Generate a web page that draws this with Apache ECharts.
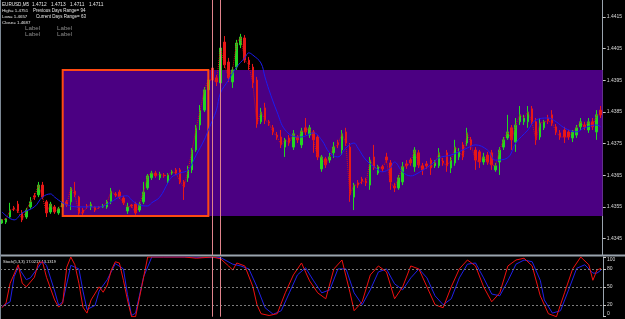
<!DOCTYPE html>
<html>
<head>
<meta charset="utf-8">
<script src="https://cdn.jsdelivr.net/npm/echarts@6/dist/echarts.min.js"></script>
<style>
  html, body { margin: 0; padding: 0; background: #000; }
  #chart { width: 625px; height: 319px; }
</style>
</head>
<body>
<div id="chart"></div>
<script>
// bars, [open, close, low, high]
const candles = [
  [1.43499, 1.43509, 1.43496, 1.43512], [1.43502, 1.43512, 1.43496, 1.43515], [1.43518, 1.43540, 1.43515, 1.43563],
  [1.43547, 1.43544, 1.43537, 1.43553], [1.43559, 1.43537, 1.43531, 1.43569], [1.43531, 1.43509, 1.43502, 1.43540],
  [1.43518, 1.43540, 1.43512, 1.43547], [1.43550, 1.43566, 1.43544, 1.43581], [1.43585, 1.43581, 1.43572, 1.43594],
  [1.43588, 1.43619, 1.43581, 1.43629], [1.43619, 1.43581, 1.43575, 1.43629], [1.43566, 1.43531, 1.43518, 1.43572],
  [1.43534, 1.43559, 1.43528, 1.43566], [1.43550, 1.43534, 1.43528, 1.43556], [1.43531, 1.43544, 1.43525, 1.43550],
  [1.43550, 1.43563, 1.43544, 1.43569], [1.43566, 1.43556, 1.43550, 1.43572], [1.43566, 1.43610, 1.43540, 1.43613],
  [1.43600, 1.43588, 1.43581, 1.43629], [1.43581, 1.43531, 1.43525, 1.43585], [1.43540, 1.43531, 1.43525, 1.43547],
  [1.43553, 1.43550, 1.43544, 1.43559], [1.43550, 1.43559, 1.43540, 1.43566], [1.43550, 1.43540, 1.43534, 1.43553],
  [1.43550, 1.43548, 1.43544, 1.43553], [1.43550, 1.43553, 1.43547, 1.43559], [1.43550, 1.43566, 1.43544, 1.43572],
  [1.43566, 1.43600, 1.43559, 1.43610], [1.43591, 1.43588, 1.43581, 1.43597], [1.43597, 1.43581, 1.43575, 1.43604],
  [1.43578, 1.43563, 1.43556, 1.43585], [1.43537, 1.43550, 1.43528, 1.43563], [1.43556, 1.43553, 1.43547, 1.43559],
  [1.43559, 1.43531, 1.43525, 1.43566], [1.43540, 1.43559, 1.43534, 1.43566], [1.43566, 1.43597, 1.43559, 1.43629],
  [1.43610, 1.43648, 1.43604, 1.43654], [1.43642, 1.43657, 1.43635, 1.43664], [1.43657, 1.43648, 1.43642, 1.43664],
  [1.43642, 1.43654, 1.43635, 1.43661], [1.43651, 1.43648, 1.43642, 1.43657], [1.43629, 1.43651, 1.43622, 1.43657],
  [1.43657, 1.43661, 1.43651, 1.43667], [1.43667, 1.43657, 1.43651, 1.43673], [1.43667, 1.43629, 1.43622, 1.43673],
  [1.43629, 1.43613, 1.43572, 1.43635], [1.43642, 1.43667, 1.43629, 1.43680], [1.43667, 1.43730, 1.43657, 1.43736],
  [1.43730, 1.43800, 1.43724, 1.43809], [1.43809, 1.43856, 1.43793, 1.43872], [1.43856, 1.43920, 1.43850, 1.43929],
  [1.43920, 1.43951, 1.43904, 1.43961], [1.43989, 1.43951, 1.43935, 1.44014], [1.43958, 1.43945, 1.43932, 1.43967],
  [1.43942, 1.44052, 1.43926, 1.44062], [1.44071, 1.43999, 1.43989, 1.44090], [1.44008, 1.43958, 1.43945, 1.44021],
  [1.43945, 1.43983, 1.43926, 1.43992], [1.43992, 1.44068, 1.43983, 1.44078], [1.44062, 1.44087, 1.44052, 1.44097],
  [1.44084, 1.44014, 1.44005, 1.44093], [1.44014, 1.43999, 1.43983, 1.44024], [1.43992, 1.43942, 1.43926, 1.44002],
  [1.43951, 1.43812, 1.43800, 1.43961], [1.43819, 1.43850, 1.43812, 1.43863], [1.43863, 1.43825, 1.43812, 1.43879],
  [1.43819, 1.43815, 1.43806, 1.43825], [1.43800, 1.43787, 1.43777, 1.43809], [1.43777, 1.43771, 1.43762, 1.43787],
  [1.43771, 1.43746, 1.43736, 1.43793], [1.43739, 1.43762, 1.43708, 1.43768], [1.43768, 1.43752, 1.43743, 1.43777],
  [1.43739, 1.43781, 1.43730, 1.43793], [1.43771, 1.43762, 1.43752, 1.43777], [1.43746, 1.43790, 1.43736, 1.43800],
  [1.43800, 1.43787, 1.43777, 1.43831], [1.43777, 1.43800, 1.43768, 1.43809], [1.43787, 1.43762, 1.43721, 1.43793],
  [1.43771, 1.43708, 1.43698, 1.43777], [1.43670, 1.43708, 1.43661, 1.43714], [1.43702, 1.43683, 1.43673, 1.43708],
  [1.43698, 1.43708, 1.43689, 1.43721], [1.43721, 1.43739, 1.43705, 1.43755], [1.43752, 1.43746, 1.43736, 1.43762],
  [1.43730, 1.43781, 1.43714, 1.43793], [1.43787, 1.43752, 1.43743, 1.43800], [1.43739, 1.43588, 1.43566, 1.43752],
  [1.43581, 1.43619, 1.43540, 1.43626], [1.43626, 1.43619, 1.43610, 1.43635], [1.43638, 1.43632, 1.43622, 1.43645],
  [1.43632, 1.43626, 1.43616, 1.43642], [1.43619, 1.43698, 1.43604, 1.43708], [1.43708, 1.43673, 1.43667, 1.43746],
  [1.43657, 1.43677, 1.43651, 1.43683], [1.43677, 1.43670, 1.43661, 1.43683], [1.43708, 1.43698, 1.43689, 1.43721],
  [1.43689, 1.43629, 1.43604, 1.43698], [1.43616, 1.43610, 1.43597, 1.43626], [1.43610, 1.43642, 1.43604, 1.43651],
  [1.43629, 1.43677, 1.43619, 1.43692], [1.43686, 1.43680, 1.43670, 1.43698], [1.43698, 1.43689, 1.43680, 1.43705],
  [1.43677, 1.43730, 1.43661, 1.43739], [1.43721, 1.43683, 1.43673, 1.43730], [1.43680, 1.43667, 1.43651, 1.43689],
  [1.43686, 1.43680, 1.43670, 1.43695], [1.43698, 1.43673, 1.43651, 1.43705], [1.43680, 1.43689, 1.43673, 1.43698],
  [1.43680, 1.43721, 1.43673, 1.43736], [1.43695, 1.43689, 1.43680, 1.43705], [1.43721, 1.43680, 1.43661, 1.43730],
  [1.43673, 1.43698, 1.43657, 1.43708], [1.43689, 1.43739, 1.43680, 1.43762], [1.43708, 1.43724, 1.43698, 1.43736],
  [1.43746, 1.43708, 1.43698, 1.43755], [1.43752, 1.43784, 1.43743, 1.43800], [1.43762, 1.43746, 1.43730, 1.43771],
  [1.43730, 1.43698, 1.43667, 1.43739], [1.43724, 1.43692, 1.43673, 1.43730], [1.43692, 1.43708, 1.43683, 1.43721],
  [1.43714, 1.43692, 1.43683, 1.43724], [1.43721, 1.43683, 1.43667, 1.43730], [1.43667, 1.43680, 1.43661, 1.43689],
  [1.43692, 1.43730, 1.43651, 1.43739], [1.43739, 1.43762, 1.43730, 1.43771], [1.43768, 1.43787, 1.43762, 1.43841],
  [1.43800, 1.43762, 1.43730, 1.43809], [1.43755, 1.43809, 1.43724, 1.43831], [1.43819, 1.43841, 1.43809, 1.43869],
  [1.43819, 1.43831, 1.43809, 1.43841], [1.43819, 1.43850, 1.43800, 1.43869], [1.43860, 1.43819, 1.43809, 1.43869],
  [1.43819, 1.43762, 1.43746, 1.43831], [1.43771, 1.43815, 1.43762, 1.43831], [1.43800, 1.43819, 1.43793, 1.43825],
  [1.43831, 1.43822, 1.43812, 1.43841], [1.43841, 1.43815, 1.43806, 1.43856], [1.43803, 1.43787, 1.43777, 1.43812],
  [1.43784, 1.43771, 1.43762, 1.43793], [1.43793, 1.43771, 1.43752, 1.43803], [1.43787, 1.43771, 1.43762, 1.43793],
  [1.43768, 1.43787, 1.43755, 1.43793], [1.43777, 1.43800, 1.43768, 1.43809], [1.43803, 1.43819, 1.43793, 1.43831],
  [1.43809, 1.43803, 1.43793, 1.43819], [1.43793, 1.43819, 1.43784, 1.43831], [1.43819, 1.43803, 1.43793, 1.43831],
  [1.43787, 1.43841, 1.43762, 1.43856], [1.43856, 1.43841, 1.43831, 1.43869]
]

// blue moving average, [bar, price]
const maLine = [
  [0, 1.43534], [3, 1.43509], [5, 1.43531], [8, 1.43550], [10, 1.43581], [12, 1.43591], [13, 1.43581],
  [15, 1.43563], [17, 1.43553], [19, 1.43550], [24, 1.43550], [27, 1.43566], [29, 1.43581], [31, 1.43585],
  [32, 1.43572], [34, 1.43556], [36, 1.43553], [37, 1.43563], [39, 1.43581], [41, 1.43626], [42, 1.43645],
  [44, 1.43657], [46, 1.43667], [48, 1.43714], [50, 1.43762], [51, 1.43793], [53, 1.43856], [54, 1.43910],
  [56, 1.43951], [58, 1.43992], [60, 1.44021], [61, 1.44037], [62, 1.44030], [64, 1.44005], [65, 1.43961],
  [66, 1.43920], [68, 1.43850], [70, 1.43793], [73, 1.43771], [74, 1.43771], [77, 1.43784], [79, 1.43762],
  [81, 1.43721], [83, 1.43708], [85, 1.43736], [87, 1.43752], [88, 1.43736], [90, 1.43698], [93, 1.43667],
  [94, 1.43661], [96, 1.43673], [97, 1.43692], [99, 1.43661], [101, 1.43648], [102, 1.43651], [106, 1.43683],
  [108, 1.43705], [111, 1.43714], [115, 1.43736], [117, 1.43746], [120, 1.43730], [122, 1.43698], [125, 1.43705],
  [127, 1.43752], [130, 1.43793], [132, 1.43825], [135, 1.43831], [137, 1.43819], [139, 1.43800], [142, 1.43787],
  [144, 1.43800], [147, 1.43809], [148, 1.43803]
]

// stochastic main (red) and signal (blue), [bar, value]
const stochMain = [
  [0, 15], [1, 23], [2, 56], [4, 87], [5, 56], [6, 50], [8, 66], [9, 90], [10, 92], [11, 66], [13, 28],
  [14, 16], [15, 23], [16, 83], [17, 100], [18, 87], [19, 56], [20, 16], [21, 6], [22, 28], [24, 50],
  [25, 41], [26, 53], [27, 78], [28, 92], [29, 90], [30, 61], [31, 28], [32, 0], [33, 0], [34, 33],
  [36, 100], [40, 100], [45, 100], [48, 98], [52, 100], [54, 97], [56, 85], [57, 78], [58, 90], [60, 85],
  [62, 50], [63, 20], [64, 5], [66, 2], [68, 5], [70, 40], [72, 70], [74, 90], [76, 60], [78, 40], [80, 30],
  [82, 80], [84, 95], [86, 40], [87, 10], [89, 25], [91, 70], [93, 85], [95, 75], [97, 30], [99, 50],
  [101, 85], [103, 80], [105, 50], [107, 20], [109, 15], [111, 50], [113, 80], [115, 95], [117, 85],
  [119, 50], [121, 25], [123, 40], [125, 85], [127, 95], [129, 98], [131, 85], [133, 35], [135, 5],
  [137, 0], [139, 40], [141, 80], [143, 100], [145, 87], [146, 61], [147, 78], [148, 81]
]
const stochSignal = [
  [0, 17], [2, 25], [3, 67], [4, 83], [6, 62], [7, 65], [9, 83], [10, 93], [11, 86], [13, 43], [14, 19],
  [15, 25], [17, 86], [19, 80], [20, 43], [21, 12], [23, 19], [24, 43], [26, 62], [28, 89], [30, 80],
  [31, 37], [32, 2], [33, 6], [35, 67], [37, 100], [40, 100], [46, 100], [50, 99], [54, 99], [57, 88],
  [59, 85], [61, 80], [63, 50], [65, 15], [67, 4], [69, 10], [71, 40], [73, 70], [75, 82], [77, 60],
  [79, 40], [81, 45], [83, 80], [85, 80], [87, 40], [89, 20], [91, 45], [93, 75], [95, 80], [97, 55],
  [99, 45], [101, 65], [103, 80], [105, 65], [107, 35], [109, 20], [111, 30], [113, 65], [115, 88],
  [117, 90], [119, 65], [121, 38], [123, 35], [125, 60], [127, 88], [129, 95], [131, 92], [133, 61],
  [134, 28], [136, 6], [138, 10], [140, 45], [142, 81], [144, 87], [146, 73], [147, 73], [148, 78]
]

const priceTicks = [1.4345, 1.4355, 1.4365, 1.4375, 1.4385, 1.4395, 1.4405, 1.4415]
const stochTicks = [0, 20, 50, 80, 100]
const stochLevels = [20, 50, 80]
// rectangle objects on the chart (bar index / price)
const zoneStart = 15
const boxEnd = 51
const zoneTop = 1.43983
const zoneBottom = 1.43521
const vLines = [52, 54]

const quote = ['EURUSD,M5', '1.4712', '1.4713', '1.4711', '1.4711']
const infoLines = ['High= 1.4751', 'Low= 1.4657', 'Close= 1.4687']
const rangeLines = ['Previous Days Range= 94', 'Current Days Range= 63']

const bars = candles.map((c, i) => String(i))
const closes = candles.map(c => c[1])

const chart = echarts.init(document.getElementById('chart'))

const txt = (x, y, s, color, size) => ({
  type: 'text', x: x, y: y, silent: true,
  style: { text: s, fill: color, font: size + 'px "Liberation Sans", Arial', textVerticalAlign: 'middle' }
})

const graphics = []
// header: symbol, then the four prices spread out as in the terminal
;[2, 32, 51, 70, 89].forEach((x, i) => graphics.push(txt(x, 4.7, quote[i], '#e8e8e8', i ? 4.8 : 4.6)))
infoLines.forEach((s, i) => graphics.push(txt(2, 10.6 + i * 5.9, s, '#e8e8e8', 4.4)))
rangeLines.forEach((s, i) => graphics.push(txt(i ? 36 : 33, 10.6 + i * 5.9, s, '#e8e8e8', 4.5)))
;[25, 57].forEach(x => [27.8, 34.4].forEach(y => graphics.push(txt(x, y, 'Label', '#8c8c8c', 6.2))))
graphics.push(txt(3, 262, 'Stoch(5,3,3) 17.0213 13.1319', '#e8e8e8', 4))
// pane separator and window edge
graphics.push({ type: 'line', silent: true, shape: { x1: 0, y1: 255.5, x2: 625, y2: 255.5 }, style: { stroke: '#9aa4ae', lineWidth: 2 } })
graphics.push({ type: 'line', silent: true, shape: { x1: 0.5, y1: 0, x2: 0.5, y2: 319 }, style: { stroke: '#7c8894', lineWidth: 1 } })

const axisCommon = {
  position: 'right',
  axisLine: { show: true, lineStyle: { color: '#9aa4ae', width: 1 } },
  splitLine: { show: false },
  axisTick: { show: true, length: 3, inside: false, lineStyle: { color: '#c8c8c8' } },
  axisLabel: { color: '#d8d8d8', fontSize: 5, fontFamily: 'Liberation Sans', margin: 4 }
}

chart.setOption({
  backgroundColor: '#000',
  animation: false,
  graphic: graphics,
  grid: [
    { left: 0, right: 22, top: 0, height: 255 },
    { left: 0, right: 22, top: 257, bottom: 2.3 }
  ],
  xAxis: [
    { type: 'category', data: bars, gridIndex: 0, boundaryGap: true, show: false },
    { type: 'category', data: bars, gridIndex: 1, boundaryGap: true, show: false }
  ],
  yAxis: [
    Object.assign({}, axisCommon, {
      type: 'value', gridIndex: 0, min: 1.43398, max: 1.44204, scale: true,
      axisTick: Object.assign({}, axisCommon.axisTick, { customValues: priceTicks }),
      axisLabel: Object.assign({}, axisCommon.axisLabel, { customValues: priceTicks, formatter: v => v.toFixed(4) })
    }),
    Object.assign({}, axisCommon, {
      type: 'value', gridIndex: 1, min: 0, max: 100,
      axisTick: Object.assign({}, axisCommon.axisTick, { customValues: stochTicks }),
      axisLabel: Object.assign({}, axisCommon.axisLabel, {
        customValues: stochTicks,
        // the terminal keeps the end labels inside the window
        formatter: v => v === 100 ? '{hi|100}' : v === 0 ? '{lo|0}' : String(v),
        rich: {
          hi: { fontSize: 5, color: '#d8d8d8', padding: [5, 0, 0, 0] },
          lo: { fontSize: 5, color: '#d8d8d8', padding: [0, 0, 7, 0] }
        }
      })
    })
  ],
  series: [
    {
      name: 'EURUSD', type: 'candlestick', xAxisIndex: 0, yAxisIndex: 0,
      data: candles.map(c => [c[0], c[1], c[2], c[3]]),
      barWidth: 2,
      itemStyle: { color: '#22d622', color0: '#e81818', borderColor: '#22d622', borderColor0: '#e81818', borderWidth: 1 },
      markArea: {
        silent: true,
        itemStyle: { color: '#4b0082' },
        data: [[{ xAxis: zoneStart, yAxis: zoneTop }, { xAxis: Infinity, yAxis: zoneBottom }]]
      },
      markLine: {
        silent: true, symbol: 'none', label: { show: false },
        lineStyle: { color: '#e0848c', width: 1, type: 'solid' },
        data: vLines.map(v => ({ xAxis: v }))
      }
    },
    {
      name: 'close', type: 'line', xAxisIndex: 0, yAxisIndex: 0, data: closes,
      symbol: 'none', z: 3,
      lineStyle: { color: '#e01010', width: 1, type: [1, 1] },
      markArea: {
        silent: true, z: 4,
        itemStyle: { color: 'rgba(0,0,0,0)', borderColor: '#ff4a12', borderWidth: 2 },
        data: [[{ xAxis: zoneStart, yAxis: zoneTop }, { xAxis: boxEnd, yAxis: zoneBottom }]]
      }
    },
    {
      name: 'MA', type: 'line', xAxisIndex: 0, yAxisIndex: 0, data: maLine,
      symbol: 'none', smooth: 0.4, z: 4,
      lineStyle: { color: '#1c1cf0', width: 1 }
    },
    {
      name: 'signal', type: 'line', xAxisIndex: 1, yAxisIndex: 1, data: stochSignal,
      symbol: 'none', lineStyle: { color: '#2020e8', width: 1 },
      markLine: {
        silent: true, symbol: 'none', label: { show: false },
        lineStyle: { color: '#7c7c7c', width: 1, type: [2, 2] },
        data: stochLevels.map(v => ({ yAxis: v }))
      }
    },
    {
      name: 'main', type: 'line', xAxisIndex: 1, yAxisIndex: 1, data: stochMain,
      symbol: 'none', lineStyle: { color: '#f01010', width: 1 },
      markLine: {
        silent: true, symbol: 'none', label: { show: false },
        lineStyle: { color: '#e0848c', width: 1, type: 'solid' },
        data: vLines.map(v => ({ xAxis: v }))
      }
    }
  ]
})
</script>
</body>
</html>
